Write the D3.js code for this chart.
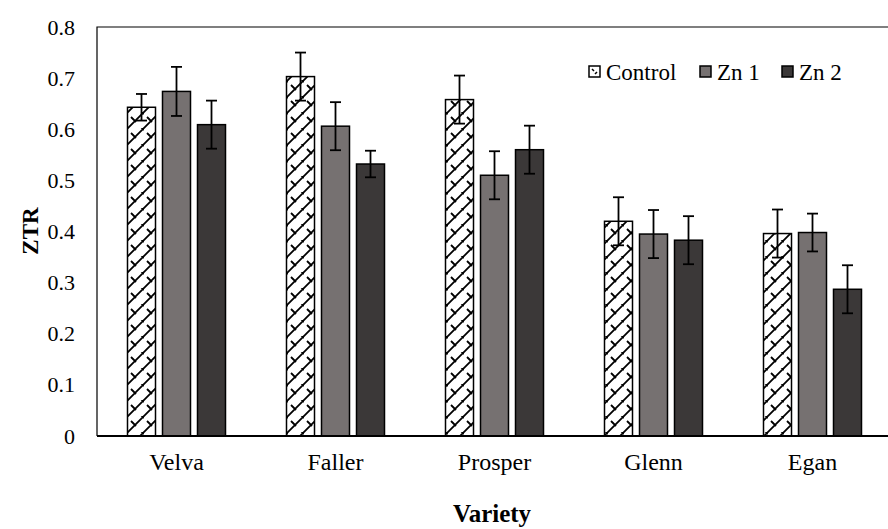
<!DOCTYPE html>
<html><head><meta charset="utf-8">
<script src="https://cdn.jsdelivr.net/npm/d3@7"></script>
<style>body{margin:0;background:#fff}svg{display:block}
svg text{font-family:"Liberation Serif","Tinos","Times New Roman","DejaVu Serif",serif !important;}</style>
</head><body>
<script>
const categories = ["Velva","Faller","Prosper","Glenn","Egan"];
const seriesNames = ["Control","Zn 1","Zn 2"];
const controlVals = [0.643,0.703,0.658,0.420,0.396];
const zn1Vals     = [0.674,0.606,0.510,0.395,0.398];
const zn2Vals     = [0.609,0.532,0.560,0.383,0.287];
const controlErr  = [0.026,0.047,0.047,0.047,0.047];
const zn1Err      = [0.048,0.047,0.047,0.047,0.037];
const zn2Err      = [0.047,0.026,0.047,0.047,0.047];
const yTicks = [0,0.1,0.2,0.3,0.4,0.5,0.6,0.7,0.8];

(function(){
const W=888,H=529;
const svg=d3.select("body").append("svg").attr("width",W).attr("height",H);

const defs=svg.append("defs");
const pat=defs.append("pattern").attr("id","zig").attr("patternUnits","userSpaceOnUse")
  .attr("width",16).attr("height",16);
pat.append("rect").attr("width",16).attr("height",16).attr("fill","#fff");
pat.append("path").attr("d","M0,16 L16,0 M-2,2 L2,-2 M14,18 L18,14 M3,5 L8,10 M11,-3 L16,2 M-5,13 L0,18")
  .attr("stroke","#000").attr("stroke-width",1.8).attr("fill","none");

const pLeft=97, pTop=27, pBottom=436, pRight=892;
const x=d3.scaleBand().domain(categories).range([pLeft,pRight]).paddingInner(0).paddingOuter(0);
const y=d3.scaleLinear().domain([0,0.8]).range([pBottom,pTop]);
const xs=d3.scaleBand().domain(seriesNames).range([0,98]).paddingInner(0.2);

const data=[controlVals,zn1Vals,zn2Vals];
const errs=[controlErr,zn1Err,zn2Err];
const fills=["url(#zig)","#767171","#3b3838"];

svg.append("path").attr("d",`M${pRight},${pTop} L${pLeft},${pTop} L${pLeft},${pBottom}`)
  .attr("fill","none").attr("stroke","#000").attr("stroke-width",1.2);

seriesNames.forEach((s,si)=>{
  const g=svg.append("g");
  categories.forEach((c,ci)=>{
    const x0=x(c)+(x.bandwidth()-98)/2+xs(s);
    const v=data[si][ci];
    g.append("rect").attr("x",x0).attr("y",y(v)).attr("width",xs.bandwidth())
      .attr("height",y(0)-y(v)).attr("fill",fills[si]).attr("stroke","#000").attr("stroke-width",1.5);
  });
});
seriesNames.forEach((s,si)=>{
  categories.forEach((c,ci)=>{
    const cx=x(c)+(x.bandwidth()-98)/2+xs(s)+xs.bandwidth()/2;
    const v=data[si][ci], e=errs[si][ci];
    const g=svg.append("g").attr("stroke","#000").attr("stroke-width",1.8);
    g.append("line").attr("x1",cx).attr("x2",cx).attr("y1",y(v+e)).attr("y2",y(v-e));
    g.append("line").attr("x1",cx-5.5).attr("x2",cx+5.5).attr("y1",y(v+e)).attr("y2",y(v+e));
    g.append("line").attr("x1",cx-5.5).attr("x2",cx+5.5).attr("y1",y(v-e)).attr("y2",y(v-e));
  });
});
svg.append("line").attr("x1",pLeft).attr("x2",pRight).attr("y1",pBottom).attr("y2",pBottom)
  .attr("stroke","#000").attr("stroke-width",2);

const yAxis=d3.axisLeft(y).tickValues(yTicks).tickSize(0).tickPadding(22)
  .tickFormat(d=>d===0?"0":d3.format(".1f")(d));
const ya=svg.append("g").attr("transform",`translate(${pLeft},0)`).call(yAxis);
ya.select(".domain").remove();
ya.attr("font-family",null);
ya.selectAll("text").attr("font-size",22).attr("fill","#000");

const xAxis=d3.axisBottom(x).tickSize(0).tickPadding(17);
const xa=svg.append("g").attr("transform",`translate(0,${pBottom})`).call(xAxis);
xa.select(".domain").remove();
xa.attr("font-family",null);
xa.selectAll("text").attr("font-size",24).attr("fill","#000");

svg.append("text").attr("transform","translate(38,231) rotate(-90)").attr("text-anchor","middle")
  .attr("font-size",23).attr("font-weight","bold").text("ZTR");
svg.append("text").attr("x",492).attr("y",522).attr("text-anchor","middle")
  .attr("font-size",25).attr("font-weight","bold").text("Variety");

const legX=[589,700,782];
seriesNames.forEach((s,si)=>{
  const g=svg.append("g").attr("transform",`translate(${legX[si]},66)`);
  g.append("rect").attr("x",0).attr("y",0).attr("width",11).attr("height",11)
    .attr("fill",si===0?"#fff":fills[si]).attr("stroke","#000").attr("stroke-width",1.5);
  if(si===0){
    g.append("path").attr("d","M3,3 L5,5 M6,8 L8,6").attr("stroke","#000").attr("stroke-width",1.5);
  }
  g.append("text").attr("x",17).attr("y",14).attr("font-size",23)
    .attr("fill","#000").text(s);
});
})();
</script>
</body></html>
